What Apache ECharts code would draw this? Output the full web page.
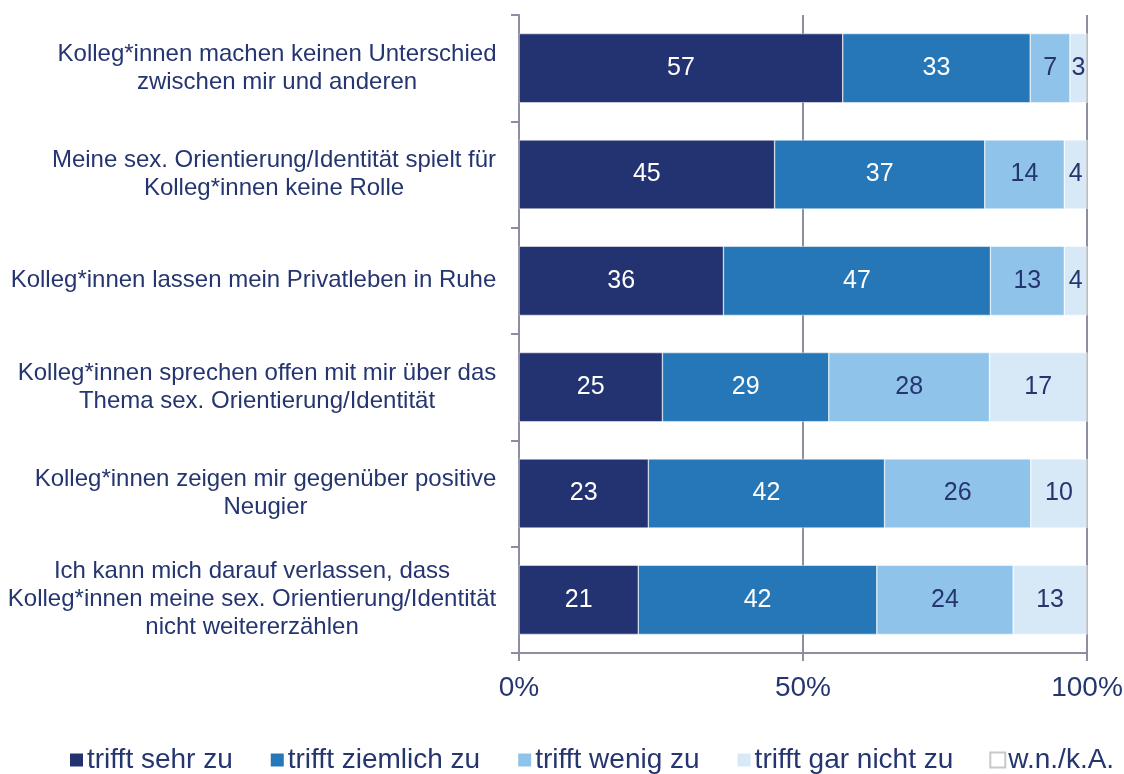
<!DOCTYPE html>
<html><head><meta charset="utf-8">
<script src="https://cdn.jsdelivr.net/npm/echarts@6/dist/echarts.min.js"></script>
<style>html,body{margin:0;padding:0;background:#fff}#c{width:1124px;height:774px}</style>
</head><body><div id="c"></div>
<script>
const categories = [
  "Kolleg*innen machen keinen Unterschied\nzwischen mir und anderen",
  "Meine sex. Orientierung/Identität spielt für\nKolleg*innen keine Rolle",
  "Kolleg*innen lassen mein Privatleben in Ruhe",
  "Kolleg*innen sprechen offen mit mir über das\nThema sex. Orientierung/Identität",
  "Kolleg*innen zeigen mir gegenüber positive\nNeugier",
  "Ich kann mich darauf verlassen, dass\nKolleg*innen meine sex. Orientierung/Identität\nnicht weitererzählen"
];
const seriesNames = ["trifft sehr zu", "trifft ziemlich zu", "trifft wenig zu", "trifft gar nicht zu", "w.n./k.A."];
const sehr      = [57, 45, 36, 25, 23, 21];
const ziemlich  = [33, 37, 47, 29, 42, 42];
const wenig     = [7, 14, 13, 28, 26, 24];
const garNicht  = [3, 4, 4, 17, 10, 13];
const wnka      = [0, 0, 0, 0, 0, 0];
const xTicks = [0, 50, 100];

const raw = [sehr, ziemlich, wenig, garNicht, wnka];
const colors = ["#233371", "#2577b8", "#8fc3ea", "#d7e9f6", "#ffffff"];
const labelColors = ["#ffffff", "#ffffff", "#253570", "#253570", "#253570"];
const navy = "#253570";
const axisGray = "#8e8ea3";
const FONT = "Liberation Sans, Arial, sans-serif";
const catFontSize = 24;
const rowSum = categories.map((_, i) => raw.reduce((s, a) => s + a[i], 0));

// measure label blocks so lines are centred within a right-aligned block
const ctx = document.createElement('canvas').getContext('2d');
ctx.font = catFontSize + 'px ' + FONT;
const rich = {};
categories.forEach((c, i) => {
  const w = Math.max(...c.split('\n').map(l => ctx.measureText(l).width));
  rich['c' + i] = { width: Math.ceil(w) + 1, align: 'center', fontSize: catFontSize, lineHeight: 28, color: navy, fontFamily: FONT };
});

const chart = echarts.init(document.getElementById('c'));
chart.setOption({
  animation: false,
  textStyle: { fontFamily: FONT },
  grid: { left: 519, right: 37, top: 15, bottom: 121, containLabel: false, outerBoundsMode: 'none' },
  legend: {
    top: 746, left: 68, padding: 0,
    itemWidth: 15, itemHeight: 15, itemGap: 36,
    icon: 'rect',
    textStyle: { fontSize: 28, color: navy, padding: [0, 0, 0, -2] },
    data: seriesNames
  },
  xAxis: {
    type: 'value', min: xTicks[0], max: xTicks[xTicks.length - 1], interval: 50,
    axisLine: { show: true, lineStyle: { color: axisGray, width: 2 } },
    axisTick: { show: true, length: 8, lineStyle: { color: axisGray, width: 2 } },
    axisLabel: { formatter: '{value}%', fontSize: 28, color: navy, margin: 21 },
    splitLine: { show: true, lineStyle: { color: axisGray, width: 2 } }
  },
  yAxis: {
    type: 'category', data: categories, inverse: true,
    axisLine: { show: true, lineStyle: { color: axisGray, width: 2 } },
    axisTick: { show: true, length: 8, lineStyle: { color: axisGray, width: 2 } },
    axisLabel: {
      fontSize: catFontSize, color: navy, margin: 22, align: 'right',
      formatter: (v, idx) => v.split('\n').map(l => '{c' + idx + '|' + l + '}').join('\n'),
      rich
    },
  },
  series: seriesNames.map((name, si) => ({
    name, type: 'bar', stack: 'total', barWidth: '65%',
    itemStyle: { color: colors[si], borderColor: si === 4 ? '#c8c8c8' : '#ffffff', borderWidth: si === 4 ? 1.5 : 0.5 },
    label: {
      show: true, position: 'inside', fontSize: 25, color: labelColors[si],
      formatter: p => raw[si][p.dataIndex] > 0 ? String(raw[si][p.dataIndex]) : ''
    },
    data: raw[si].map((v, i) => v / rowSum[i] * 100)
  }))
});
</script></body></html>
